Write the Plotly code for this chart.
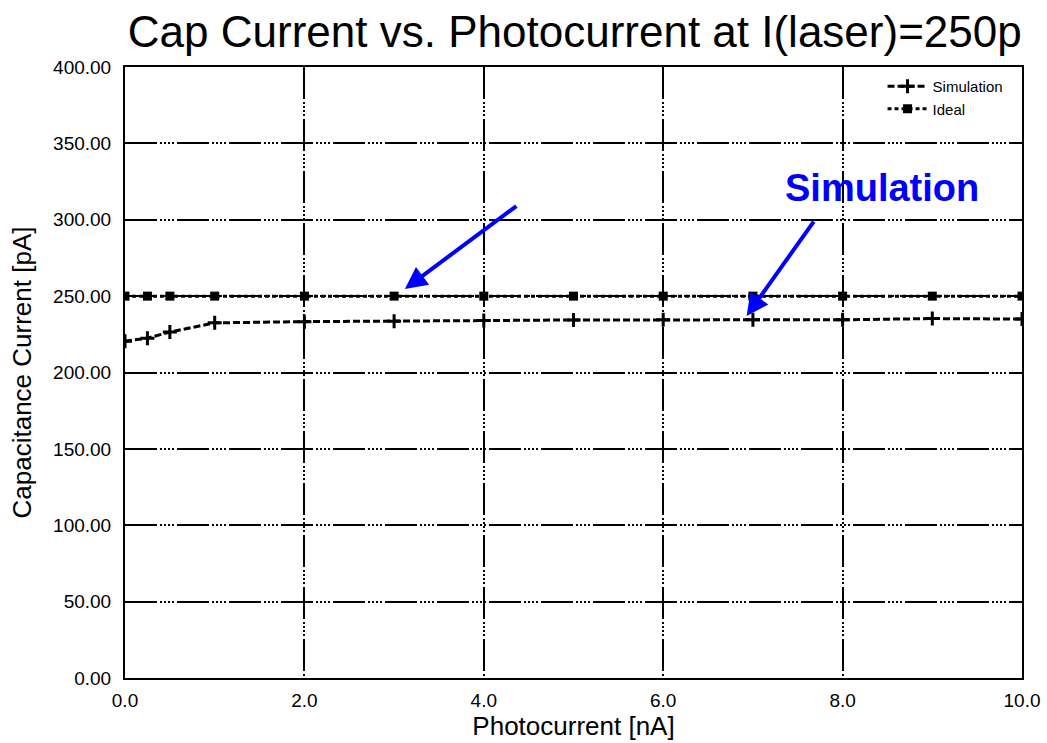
import plotly.graph_objects as go

photocurrent = [0.0, 0.25, 0.5, 1.0, 2.0, 3.0, 4.0, 5.0, 6.0, 7.0, 8.0, 9.0, 10.0]
simulation = [220.5, 222.5, 226.5, 232.5, 233.3, 233.5, 234.0, 234.4, 234.5, 234.5, 234.5, 235.3, 235.0]
ideal = [250.0] * len(photocurrent)

x_ticks = [0, 2, 4, 6, 8, 10]
y_ticks = [0, 50, 100, 150, 200, 250, 300, 350, 400]

FONT = "Liberation Sans, Arial, sans-serif"
GRIDDASH = "32px,3px,2px,2px,2px,2px,2px,2px,2px,3px"

fig = go.Figure()
fig.add_trace(go.Scatter(
    x=photocurrent, y=simulation, name="Simulation", mode="lines+markers",
    line=dict(color="black", width=3, dash="7px,3px"),
    marker=dict(symbol="cross-thin", size=10, line=dict(color="black", width=3)),
))
fig.add_trace(go.Scatter(
    x=photocurrent, y=ideal, name="Ideal", mode="lines+markers",
    line=dict(color="black", width=3, dash="4px,3px"),
    marker=dict(symbol="square", size=9, color="black"),
))

axis_common = dict(
    showline=True, linecolor="black", linewidth=2, mirror=True,
    showgrid=True, gridcolor="black", gridwidth=1.5, griddash=GRIDDASH,
    zeroline=False, ticks="", color="black", automargin=False,
    tickfont=dict(family=FONT, size=19, color="black"),
)

fig.update_xaxes(range=[0, 10], tickvals=x_ticks, tickformat=".1f", ticklabelstandoff=4,
                 title=dict(text="Photocurrent [nA]", font=dict(family=FONT, size=26, color="black"), standoff=6),
                 **axis_common)
fig.update_yaxes(range=[0, 400], tickvals=y_ticks, tickformat=".2f", ticklabelstandoff=8,
                 title=dict(text="Capacitance Current [pA]", font=dict(family=FONT, size=26, color="black"), standoff=14),
                 **axis_common)

# Arrows and label
fig.add_annotation(x=3.12, y=254.7, ax=4.38, ay=309.7, xref="x", yref="y", axref="x", ayref="y",
                   text="", showarrow=True, arrowhead=2, arrowsize=1.1, arrowwidth=4, arrowcolor="#0000ff")
fig.add_annotation(x=6.93, y=237.0, ax=7.69, ay=299.8, xref="x", yref="y", axref="x", ayref="y",
                   text="", showarrow=True, arrowhead=2, arrowsize=1.1, arrowwidth=4, arrowcolor="#0000ff")
fig.add_annotation(x=8.44, y=321, xref="x", yref="y", text="<b>Simulation</b>", showarrow=False,
                   font=dict(family=FONT, size=38, color="#0000ff"))

fig.update_layout(
    width=1047, height=743,
    margin=dict(l=125, r=25, t=67, b=65),
    paper_bgcolor="white", plot_bgcolor="white",
    title=dict(text="Cap Current vs. Photocurrent at I(laser)=250p", x=0.549, xanchor="center",
               y=0.957, yanchor="middle", font=dict(family=FONT, size=44, color="black"),
               automargin=False),
    legend=dict(x=0.985, y=0.995, xanchor="right", yanchor="top", bgcolor="rgba(255,255,255,0)",
                font=dict(family=FONT, size=15, color="black"), tracegroupgap=0, itemwidth=40),
    showlegend=True,
)

fig.write_html("out.html")
